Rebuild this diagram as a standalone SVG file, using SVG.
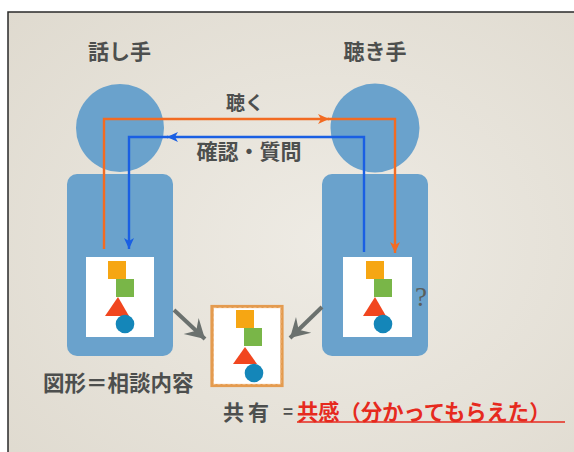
<svg xmlns="http://www.w3.org/2000/svg" width="574" height="452" viewBox="0 0 574 452">
  <defs>
    <radialGradient id="bg" cx="0.55" cy="0.5" r="0.75">
      <stop offset="0" stop-color="#eeebe4"/>
      <stop offset="1" stop-color="#dfdacf"/>
    </radialGradient>
    <marker id="arrOrange" markerUnits="userSpaceOnUse" markerWidth="12" markerHeight="10" refX="11" refY="5" orient="auto">
      <path d="M0,0 L11,5 L0,10 L3,5 Z" fill="#f26b22"/>
    </marker>
    <marker id="arrBlue" markerUnits="userSpaceOnUse" markerWidth="12" markerHeight="10" refX="11" refY="5" orient="auto">
      <path d="M0,0 L11,5 L0,10 L3,5 Z" fill="#1a5fe3"/>
    </marker>
    <marker id="arrGray" markerUnits="userSpaceOnUse" markerWidth="24" markerHeight="24" refX="19" refY="12" orient="auto">
      <path d="M0,1 L19,12 L0,23 L7,12 Z" fill="#6b716e"/>
    </marker>
    <style>
      .body{fill:#6aa2cc}
      .card{fill:#ffffff}
      .sqO{fill:#f6a613}
      .sqG{fill:#79b648}
      .tri{fill:#f1461f}
      .dot{fill:#1486b9}
      .lbl{font-family:"Noto Sans CJK JP","Noto Sans",sans-serif;fill:#4d4f4e;font-weight:bold}
      .red{fill:#e62a1e}
      .conn{fill:none;stroke-width:2.4}
    </style>
  </defs>

  <rect x="0" y="0" width="574" height="452" fill="#ffffff"/>
  <rect x="8" y="12" width="580" height="460" fill="url(#bg)" stroke="#2a2a2a" stroke-width="1.5"/>

  <g id="speaker">
    <circle class="body" cx="120" cy="128" r="44"/>
    <rect class="body" x="67" y="174" width="106" height="182" rx="10"/>
    <rect class="card" x="86" y="257" width="68" height="80"/>
    <rect class="sqO" x="108" y="261" width="18" height="18"/>
    <rect class="sqG" x="116" y="279" width="18" height="18"/>
    <polygon class="tri" points="118,297 129,316 105,316"/>
    <circle class="dot" cx="125" cy="324" r="9.3"/>
  </g>

  <g id="listener">
    <circle class="body" cx="375" cy="128" r="44.5"/>
    <rect class="body" x="322" y="174" width="106" height="182" rx="10"/>
    <rect class="card" x="343" y="257" width="69" height="80"/>
    <rect class="sqO" x="366" y="261" width="18" height="18"/>
    <rect class="sqG" x="374" y="279" width="18" height="18"/>
    <polygon class="tri" points="375,297 386,316 363,316"/>
    <circle class="dot" cx="383" cy="324" r="9.3"/>
    <text x="415" y="306" font-family="'Liberation Serif',serif" font-size="27" fill="#5a5e5c">?</text>
  </g>

  <g id="shared">
    <rect x="212" y="306.5" width="70" height="79" fill="#ffffff" stroke="#e49b4f" stroke-width="3.2"/>
    <rect x="213.5" y="307.5" width="67.5" height="77" fill="none" stroke="#eeb47a" stroke-width="1" stroke-dasharray="3 2"/>
    <rect class="sqO" x="236" y="310" width="18" height="18"/>
    <rect class="sqG" x="244" y="328" width="18" height="18"/>
    <polygon class="tri" points="245,347 257,364 233,364"/>
    <circle class="dot" cx="254" cy="373" r="9.3"/>
  </g>

  <g id="connectors">
    <path class="conn" stroke="#f26b22" d="M104,249 V119 H329" marker-end="url(#arrOrange)"/>
    <path class="conn" stroke="#f26b22" d="M328,119 H395 V253" marker-end="url(#arrOrange)"/>
    <path class="conn" stroke="#1a5fe3" d="M364,252 V137 H167" marker-end="url(#arrBlue)"/>
    <path class="conn" stroke="#1a5fe3" d="M168,137 H129 V249" marker-end="url(#arrBlue)"/>
    <path fill="none" stroke="#6b716e" stroke-width="4" d="M174,310 L205,339" marker-end="url(#arrGray)"/>
    <path fill="none" stroke="#6b716e" stroke-width="4" d="M322,307 L290,338" marker-end="url(#arrGray)"/>
  </g>

  <g id="labels">
    <text class="lbl" x="119.5" y="58.5" font-size="21" text-anchor="middle">話し手</text>
    <text class="lbl" x="375" y="58.5" font-size="21" text-anchor="middle">聴き手</text>
    <text class="lbl" x="245" y="110" font-size="19" text-anchor="middle">聴く</text>
    <text class="lbl" x="249" y="158.5" font-size="21" text-anchor="middle">確認・質問</text>
    <text class="lbl" x="43" y="391" font-size="21.5">図形＝相談内容</text>
    <text class="lbl" x="223" y="419.5" font-size="21">共</text>
    <text class="lbl" x="248" y="419.5" font-size="21">有</text>
    <text class="lbl" x="283" y="418" font-size="17">=</text>
    <text class="lbl red" x="297" y="419.5" font-size="21.3">共感（分かってもらえた）</text>
    <line x1="297" y1="422" x2="565" y2="422" stroke="#e62a1e" stroke-width="1.6"/>
  </g>
</svg>
